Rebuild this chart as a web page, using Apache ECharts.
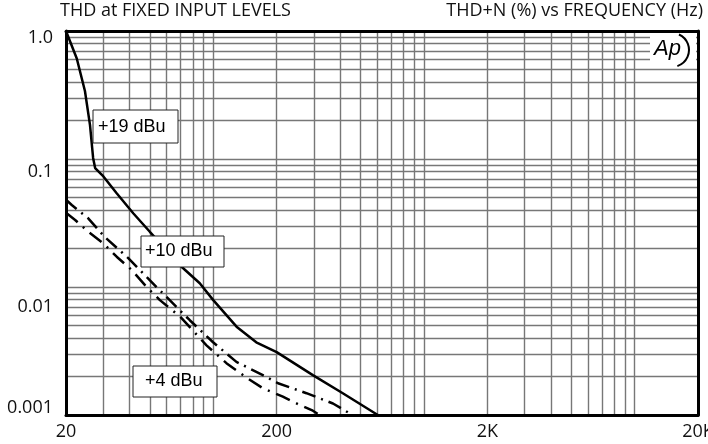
<!DOCTYPE html>
<html>
<head>
<meta charset="utf-8" />
<title>THD at fixed input levels</title>
<script src="https://cdn.jsdelivr.net/npm/echarts@6/dist/echarts.min.js"></script>
</head>
<body style="margin: 0; background: #fff">
<div id="container" style="width: 708px; height: 444px"></div>
<script>
  // THD+N (%) vs frequency (Hz)
  var freq19 = [20, 22.5, 24.6, 26, 26.9, 27.5, 30.1, 34.8, 41.7, 50, 70.7, 86.3, 100, 129, 160, 200, 297, 412, 604];
  var thd19 = [1.0, 0.61, 0.34, 0.184, 0.102, 0.085, 0.073, 0.054, 0.0377, 0.027, 0.0144, 0.0107, 0.0079, 0.0049, 0.0037, 0.0031, 0.00205, 0.00148, 0.001];

  var freq10 = [20, 21.3, 25.5, 30.6, 39.5, 53.8, 77.4, 99.8, 128.8, 172, 203, 277, 370, 458];
  var thd10 = [0.048, 0.0437, 0.0344, 0.0245, 0.0168, 0.0100, 0.0055, 0.0037, 0.0026, 0.00205, 0.00177, 0.00148, 0.00123, 0.001];

  var freq4 = [20, 22.1, 25.5, 30.1, 34.8, 41, 48.3, 55.8, 69.4, 92.9, 115.5, 143.7, 172, 214, 257, 297, 320];
  var thd4 = [0.038, 0.0334, 0.027, 0.0219, 0.01725, 0.0136, 0.0100, 0.0079, 0.0059, 0.0035, 0.00254, 0.00196, 0.00162, 0.00139, 0.0012, 0.00108, 0.001];

  // grid lines and tick labels
  var xGrid = [20, 30, 40, 50, 60, 70, 80, 90, 100, 200, 300, 400, 500, 600, 700, 800, 900,
    1000, 2000, 3000, 4000, 5000, 6000, 7000, 8000, 9000, 10000, 20000];
  var yGrid = [0.001, 0.002, 0.003, 0.004, 0.005, 0.006, 0.007, 0.008, 0.009,
    0.01, 0.02, 0.03, 0.04, 0.05, 0.06, 0.07, 0.08, 0.09,
    0.1, 0.2, 0.3, 0.4, 0.5, 0.6, 0.7, 0.8, 0.9, 1];
  var xTicks = [20, 200, 2000, 20000];
  var xTickText = ["20", "200", "2K", "20K"];
  var yTicks = [0.001, 0.01, 0.1, 1];
  var yTickText = ["0.001", "0.01", "0.1", "1.0"];

  var pairs = (xs, ys) => xs.map((x, i) => [x, ys[i]]);
  var near = (a, b) => Math.abs(Math.log10(a) - Math.log10(b)) < 1e-6;

  var dom = document.getElementById("container");
  var myChart = echarts.init(dom, null, { renderer: "canvas" });

  var labelFont = { fontFamily: "Open Sans", fontSize: 18, color: "#111" };
  var titleFont = { fontFamily: "Open Sans", fontSize: 18, fontWeight: "normal", color: "#111" };
  var boxText = { fontFamily: "Liberation Sans", fontSize: 18, color: "#000" };

  var frameAxis = {
    show: true,
    lineStyle: { color: "#000", width: 3 },
  };

  var option = {
    animation: false,
    backgroundColor: "#fff",
    title: [
      { text: "THD at FIXED INPUT LEVELS", left: 60, top: 2, padding: 0, textStyle: titleFont },
      { text: "THD+N (%) vs FREQUENCY (Hz)", right: 5, top: 2, padding: 0, textStyle: titleFont },
    ],
    grid: { left: 66, right: 10, top: 31, bottom: 29, outerBoundsMode: "none" },
    xAxis: [
      {
        type: "log", logBase: 10, min: 20, max: 20000,
        axisLine: frameAxis,
        axisTick: { show: false, customValues: xGrid },
        splitLine: { show: true, lineStyle: { color: "#777", width: 1.4 } },
        axisLabel: {
          customValues: xTicks,
          showMinLabel: true, showMaxLabel: true,
          margin: 8,
          ...labelFont,
          formatter: v => {
            var i = xTicks.findIndex(t => near(t, v));
            return i < 0 ? "" : xTickText[i];
          },
        },
      },
      {
        type: "log", logBase: 10, min: 20, max: 20000, position: "top",
        axisLine: frameAxis, axisTick: { show: false }, axisLabel: { show: false },
        splitLine: { show: false },
      },
    ],
    yAxis: [
      {
        type: "log", logBase: 10, min: 0.001, max: 1,
        axisLine: frameAxis,
        axisTick: { show: false, customValues: yGrid },
        splitLine: { show: true, lineStyle: { color: "#777", width: 1.4 } },
        axisLabel: {
          customValues: yTicks,
          showMinLabel: true, showMaxLabel: true,
          margin: 13,
          ...labelFont,
          formatter: v => {
            var i = yTicks.findIndex(t => near(t, v));
            return i < 0 ? "" : "{s" + i + "|" + yTickText[i] + "}";
          },
          // the printed labels sit a little off their lines
          rich: {
            s0: { ...labelFont, padding: [0, 0, 14, 0] },
            s1: { ...labelFont, padding: [40, 0, 0, 0] },
            s2: { ...labelFont, padding: [26, 0, 0, 0] },
            s3: { ...labelFont, padding: [14, 0, 0, 0] },
          },
        },
      },
      {
        type: "log", logBase: 10, min: 0.001, max: 1, position: "right",
        axisLine: frameAxis, axisTick: { show: false }, axisLabel: { show: false },
        splitLine: { show: false },
      },
    ],
    series: [
      {
        name: "+19 dBu", type: "line", showSymbol: false,
        data: pairs(freq19, thd19),
        lineStyle: { color: "#000", width: 2.5 },
      },
      {
        name: "+10 dBu", type: "line", showSymbol: false,
        data: pairs(freq10, thd10),
        lineStyle: { color: "#000", width: 2.5, type: [14, 6, 2, 6] },
      },
      {
        name: "+4 dBu", type: "line", showSymbol: false,
        data: pairs(freq4, thd4),
        lineStyle: { color: "#000", width: 2.5, type: [15, 7, 2, 7] },
      },
    ],
    graphic: [
      // level labels
      { type: "rect", z: 100, shape: { x: 93, y: 110, width: 85, height: 33 }, style: { fill: "#fff", stroke: "#222", lineWidth: 1 } },
      { type: "text", z: 101, x: 98, y: 127, style: { text: "+19 dBu", ...boxText, fill: "#000", verticalAlign: "middle" } },
      { type: "rect", z: 100, shape: { x: 141, y: 236, width: 83, height: 31 }, style: { fill: "#fff", stroke: "#222", lineWidth: 1 } },
      { type: "text", z: 101, x: 145, y: 251, style: { text: "+10 dBu", ...boxText, fill: "#000", verticalAlign: "middle" } },
      { type: "rect", z: 100, shape: { x: 133, y: 366, width: 84, height: 31 }, style: { fill: "#fff", stroke: "#222", lineWidth: 1 } },
      { type: "text", z: 101, x: 145, y: 381, style: { text: "+4 dBu", ...boxText, fill: "#000", verticalAlign: "middle" } },
      // Ap logo
      { type: "rect", z: 100, shape: { x: 650, y: 33, width: 46, height: 33 }, style: { fill: "#fff" } },
      { type: "text", z: 101, x: 654, y: 49, style: { text: "Ap", fontFamily: "Liberation Sans", fontStyle: "italic", fontSize: 22, fill: "#000", verticalAlign: "middle" } },
      { type: "arc", z: 101, shape: { cx: 672, cy: 50, r: 17, startAngle: -1.15, endAngle: 1.25 }, style: { stroke: "#000", fill: null, lineWidth: 2 } },
    ],
  };

  myChart.setOption(option);
</script>
</body>
</html>
